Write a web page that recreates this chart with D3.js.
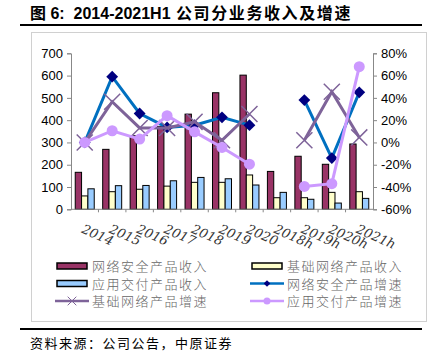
<!DOCTYPE html>
<html>
<head>
<meta charset="utf-8">
<script src="https://cdn.jsdelivr.net/npm/d3@7"></script>
<style>
  body { margin: 0; background: #fff; }
  svg { display: block; }
</style>
</head>
<body>
<svg id="chart"></svg>
<script>
// chart data
const categories = ['2014', '2015', '2016', '2017', '2018', '2019', '2020', '2018h', '2019h', '2020h', '2021h'];
const secRevenue = [166, 269, 330, 372, 427, 523, 602, 170, 238, 202, 293];
const baseRevenue = [60, 79, 90, 104, 121, 121, 154, 52, 52, 76, 79];
const appRevenue = [92, 106, 107, 128, 143, 137, 109, 76, 45, 28, 49];
// growth in %, null = no point
const secGrowth = [0, 59, 26, 13.5, 15.5, 22.5, 15.5, null, 38, -14, 45];
const baseGrowth = [0, 36.5, 13, 13, 18.5, 2, 25.5, null, 2, 45.5, 4.5];
const appGrowth = [0, 10.5, 3, 24, 9.5, -4.5, -19.5, null, -39.5, -37, 68];
const leftTicks = [0, 100, 200, 300, 400, 500, 600, 700];
const rightTicks = [-60, -40, -20, 0, 20, 40, 60, 80];

const W = 435, H = 361;
const svg = d3.select('#chart').attr('width', W).attr('height', H);

const cjk = '"Noto Sans CJK SC", sans-serif';

// title
const title = svg.append('text')
  .attr('x', 30).attr('y', 19)
  .style('font-family', 'Arial, "Liberation Sans", ' + cjk)
  .style('font-size', '16px').style('font-weight', 'bold')
  .style('white-space', 'pre');
title.append('tspan').text('图 6:  2014-2021H1 ');
title.append('tspan').attr('dx', 1).style('letter-spacing', '1.6px').text('公司分业务收入及增速');

svg.append('line').attr('x1', 20).attr('x2', 422).attr('y1', 25).attr('y2', 25)
  .attr('stroke', '#000').attr('stroke-width', 2);

// chart frame
svg.append('rect').attr('x', 31.5).attr('y', 32.5).attr('width', 395).attr('height', 289)
  .attr('fill', 'none').attr('stroke', '#d0d0d0');

const plotL = 71, plotR = 373, plotT = 53.3, plotB = 209.3;

const x = d3.scaleBand().domain(categories).range([plotL, plotR]);
const xSub = d3.scaleBand().domain(['sec', 'base', 'app']).range([0, 19]);
const yL = d3.scaleLinear().domain([0, 700]).range([plotB, plotT]);
const yR = d3.scaleLinear().domain([-60, 80]).range([plotB, plotT]);

// bars
const barSeries = [
  { key: 'sec', values: secRevenue, color: '#993366' },
  { key: 'base', values: baseRevenue, color: '#FFFFCC' },
  { key: 'app', values: appRevenue, color: '#99CCFF' }
];
const groupOffset = (x.bandwidth() - 19) / 2;
barSeries.forEach(s => {
  svg.append('g').selectAll('rect').data(s.values).join('rect')
    .attr('x', (d, i) => x(categories[i]) + groupOffset + xSub(s.key))
    .attr('y', d => yL(d))
    .attr('width', xSub.bandwidth())
    .attr('height', d => plotB - yL(d))
    .attr('fill', s.color)
    .attr('stroke', '#000').attr('stroke-width', 1);
});

// axes
const axisFont = 'Arial, "Liberation Sans", sans-serif';
const gl = svg.append('g').attr('transform', `translate(${plotL},0)`)
  .call(d3.axisLeft(yL).tickValues(leftTicks).tickSize(4).tickPadding(4));
const gr = svg.append('g').attr('transform', `translate(${plotR},0)`)
  .call(d3.axisRight(yR).tickValues(rightTicks).tickSize(4).tickPadding(4)
    .tickFormat(d => d + '%'));
[gl, gr].forEach(g => {
  g.select('.domain').attr('stroke', '#888');
  g.selectAll('.tick line').attr('stroke', '#888');
  g.selectAll('.tick text').style('font-family', axisFont).style('font-size', '13px').attr('fill', '#000');
});

// x axis line and ticks between categories
const gx = svg.append('g').attr('transform', `translate(0,${plotB})`);
gx.append('line').attr('x1', plotL).attr('x2', plotR).attr('stroke', '#888');
gx.selectAll('.sep').data(categories.slice(1)).join('line')
  .attr('x1', d => x(d)).attr('x2', d => x(d)).attr('y1', 0).attr('y2', 3)
  .attr('stroke', '#888');
gx.selectAll('.xl').data(categories).join('text')
  .attr('transform', d => `translate(${x(d) + x.bandwidth() / 2 - 4},${23}) rotate(24)`)
  .style('font-family', '"DejaVu Serif", "Liberation Serif", serif')
  .style('font-style', 'italic')
  .style('font-size', '13px')
  .attr('fill', '#333')
  .text(d => d);

// growth lines
const lineSeries = [
  { values: secGrowth, color: '#0070C0', marker: 'diamond', mcolor: '#000080' },
  { values: baseGrowth, color: '#7E6399', marker: 'cross', mcolor: '#7E6399' },
  { values: appGrowth, color: '#CC99FF', marker: 'circle', mcolor: '#CC99FF' }
];
const cx = i => x(categories[i]) + x.bandwidth() / 2;
const line = d3.line()
  .defined(d => d !== null)
  .x((d, i) => cx(i))
  .y(d => yR(d));

lineSeries.forEach(s => {
  svg.append('path').datum(s.values)
    .attr('d', line)
    .attr('fill', 'none')
    .attr('stroke', s.color)
    .attr('stroke-width', 3);
  const pts = s.values.map((v, i) => ({ v, i })).filter(p => p.v !== null);
  const g = svg.append('g');
  pts.forEach(p => {
    const px = cx(p.i), py = yR(p.v);
    if (s.marker === 'diamond') {
      g.append('path').attr('d', d3.symbol(d3.symbolSquare, 70)())
        .attr('transform', `translate(${px},${py}) rotate(45)`)
        .attr('fill', s.mcolor);
    } else if (s.marker === 'circle') {
      g.append('circle').attr('cx', px).attr('cy', py).attr('r', 5.5).attr('fill', s.mcolor);
    } else {
      g.append('path').attr('d', d3.symbol(d3.symbolX, 170)())
        .attr('transform', `translate(${px},${py})`)
        .attr('fill', 'none').attr('stroke', s.mcolor).attr('stroke-width', 1.5);
    }
  });
});

// legend
const legendItems = [
  { label: '网络安全产品收入', type: 'bar', color: '#993366' },
  { label: '基础网络产品收入', type: 'bar', color: '#FFFFCC' },
  { label: '应用交付产品收入', type: 'bar', color: '#99CCFF' },
  { label: '网络安全产品增速', type: 'line', color: '#0070C0', marker: 'diamond', mcolor: '#000080' },
  { label: '基础网络产品增速', type: 'line', color: '#7E6399', marker: 'cross', mcolor: '#7E6399' },
  { label: '应用交付产品增速', type: 'line', color: '#CC99FF', marker: 'circle', mcolor: '#CC99FF' }
];
const lg = svg.append('g');
legendItems.forEach((d, i) => {
  const col = i % 2, row = Math.floor(i / 2);
  const lx = col === 0 ? 57 : 252;
  const ly = 266 + row * 17.5;
  if (d.type === 'bar') {
    lg.append('rect').attr('x', lx).attr('y', ly - 3).attr('width', 30).attr('height', 6)
      .attr('fill', d.color).attr('stroke', '#000').attr('stroke-width', 1.5);
  } else {
    lg.append('line').attr('x1', lx - 2).attr('x2', lx + 32).attr('y1', ly).attr('y2', ly)
      .attr('stroke', d.color).attr('stroke-width', 2.5);
    if (d.marker === 'diamond') {
      lg.append('path').attr('d', d3.symbol(d3.symbolSquare, 22)())
        .attr('transform', `translate(${lx + 15},${ly}) rotate(45)`).attr('fill', d.mcolor);
    } else if (d.marker === 'circle') {
      lg.append('circle').attr('cx', lx + 15).attr('cy', ly).attr('r', 3.5).attr('fill', d.mcolor);
    } else {
      lg.append('path').attr('d', d3.symbol(d3.symbolX, 50)())
        .attr('transform', `translate(${lx + 15},${ly})`)
        .attr('fill', 'none').attr('stroke', d.mcolor).attr('stroke-width', 1);
    }
  }
  lg.append('text').attr('x', lx + 35).attr('y', ly + 5)
    .style('font-family', cjk).style('font-size', '13px').style('font-weight', 300)
    .style('letter-spacing', '1.5px')
    .attr('fill', '#666')
    .text(d.label);
});

// bottom rule and source
svg.append('line').attr('x1', 20).attr('x2', 422).attr('y1', 329).attr('y2', 329)
  .attr('stroke', '#000').attr('stroke-width', 2);
svg.append('text').attr('x', 30).attr('y', 348)
  .style('font-family', cjk).style('font-size', '13px')
  .style('letter-spacing', '1.5px')
  .attr('fill', '#000')
  .text('资料来源：公司公告，中原证券');
</script>
</body>
</html>
